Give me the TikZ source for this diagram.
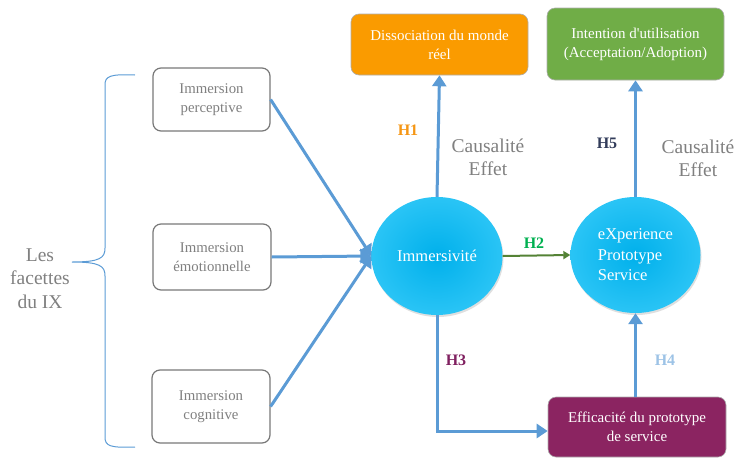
\documentclass[tikz,border=0pt]{standalone}
\usepackage{fontspec}
\setmainfont{Liberation Serif}[Ligatures=TeXOff]
\usetikzlibrary{arrows.meta,shapes.geometric,shadows}
\definecolor{linkblue}{RGB}{91,155,213}
\definecolor{boxgray}{RGB}{120,120,120}
\definecolor{txtgray}{RGB}{128,128,128}
\definecolor{orangebox}{RGB}{250,155,0}
\definecolor{greenbox}{RGB}{112,173,71}
\definecolor{purplebox}{RGB}{139,36,97}
\definecolor{cyanball}{RGB}{0,176,235}
\definecolor{cyanlight}{RGB}{60,205,250}
\definecolor{hgreen}{RGB}{0,176,80}
\definecolor{arrgreen}{RGB}{84,130,53}
\definecolor{hpurple}{RGB}{128,32,96}
\definecolor{hlight}{RGB}{157,195,230}
\definecolor{hnavy}{RGB}{50,60,90}
\definecolor{horange}{RGB}{245,150,20}
\begin{document}
\begin{tikzpicture}[x=1pt,y=-1pt,
  facet/.style={draw=boxgray,line width=1.2pt,rounded corners=8pt,fill=white,text=txtgray,
     align=center,font=\fontsize{14.8}{19}\selectfont},
  topbox/.style={draw=boxgray!60,line width=0.6pt,rounded corners=8pt,text=white,
     align=center,font=\fontsize{15}{19}\selectfont},
  ballnode/.style={ellipse,inner color=cyanball,outer color=cyanlight!70!cyanball,draw=none,
     text=white,align=center,drop shadow={opacity=0.25,shadow xshift=1pt,shadow yshift=-2pt}},
  link/.style={draw=linkblue,line width=3pt},
  linkarrow/.style={link,-{Triangle[width=14pt,length=11pt]}},
  hlab/.style={font=\bfseries\fontsize{16}{18}\selectfont},
  causal/.style={text=txtgray,align=center,font=\fontsize{19.5}{23}\selectfont}
]
\useasboundingbox (0,0) rectangle (739,461);

% facet boxes
\node[facet,minimum width=117pt,minimum height=63pt] (per) at (211.5,99.5) {Immersion\\perceptive};
\node[facet,minimum width=118pt,minimum height=66pt] (emo) at (212,257) {Immersion\\émotionnelle};
\node[facet,minimum width=118pt,minimum height=73pt] (cog) at (211,406.5) {Immersion\\cognitive};

% brace
\coordinate (bt) at (135,75);
\coordinate (bb) at (135,447);
\coordinate (tip) at (72,262);
\draw[linkblue,line width=1pt]
  (bt) .. controls (110,74) and (105,76) .. (105,85)
  -- (105,248) .. controls (105,258) and (100,262) .. (tip)
  (tip) .. controls (100,262) and (105,266) .. (105,276)
  -- (105,437) .. controls (105,446) and (110,448) .. (bb);
\node[text=txtgray,align=center,font=\fontsize{19.5}{23.5}\selectfont,anchor=north] (facets) at (40,245) {Les\\facettes\\du IX};

% ellipses
\node[ballnode,minimum width=131pt,minimum height=118pt,font=\fontsize{16.5}{19}\selectfont] (imm) at (437,256) {Immersivité};
\node[ballnode,minimum width=130pt,minimum height=116pt,font=\fontsize{16.5}{20.5}\selectfont,align=left] (exp) at (635.5,255) {eXperience\\Prototype\\Service};

% top boxes
\node[topbox,fill=orangebox,minimum width=177pt,minimum height=61pt] (dis) at (439.5,44.5) {Dissociation du monde\\réel};
\node[topbox,fill=greenbox,minimum width=177pt,minimum height=72pt] (int) at (635.5,44) {Intention d'utilisation\\(Acceptation/Adoption)};

% bottom box
\node[topbox,fill=purplebox,minimum width=178pt,minimum height=60pt] (eff) at (637,427) {Efficacité du prototype\\de service};

% connectors from facets
\draw[linkarrow] (per.east) -- (imm.west);
\draw[linkarrow] (emo.east) -- (imm.west);
\draw[linkarrow] (cog.east) -- (imm.west);

% H1
\draw[linkarrow] (imm.north) -- (dis.south);
\node[hlab,text=horange] (h1) at (408,130) {H1};
\node[causal] (c1) at (488,157) {Causalité\\Effet};

% H5
\draw[linkarrow] (exp.north -| int.south) -- (int.south);
\node[hlab,text=hnavy] (h5) at (607,143) {H5};
\node[causal] (c5) at (698,158) {Causalité\\Effet};

% H2
\draw[draw=arrgreen,line width=2pt,-{Triangle[width=8pt,length=7pt]}] (imm.east) -- (exp.west);
\node[hlab,text=hgreen] (h2) at (534,243) {H2};

% H3
\coordinate (h3c) at (437,431);
\draw[link,-{Triangle[width=14pt,length=11pt]}] (imm.south) -- (h3c) -- (eff.west |- h3c);
\node[hlab,text=hpurple] (h3) at (456,360) {H3};

% H4
\draw[linkarrow] (eff.north -| exp.south) -- (exp.south);
\node[hlab,text=hlight] (h4) at (665,360) {H4};
\end{tikzpicture}
\end{document}
